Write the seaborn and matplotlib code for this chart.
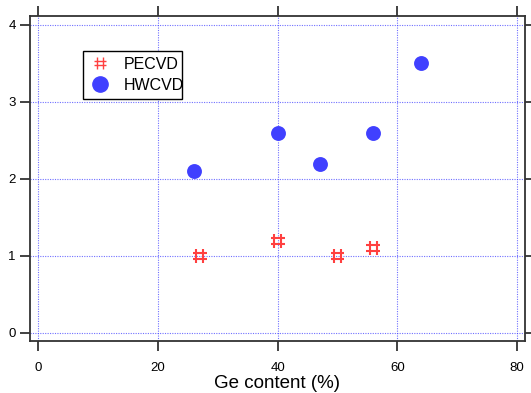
import matplotlib
matplotlib.use("Agg")
import matplotlib.pyplot as plt
from matplotlib.path import Path
from matplotlib.lines import Line2D
from matplotlib.patches import Rectangle
import seaborn as sns
import pandas as pd

pecvd_x = [27, 40, 50, 56]
pecvd_y = [1.0, 1.2, 1.0, 1.1]
hwcvd_x = [26, 40, 47, 56, 64]
hwcvd_y = [2.1, 2.6, 2.2, 2.6, 3.5]
x_ticks = [0, 20, 40, 60, 80]
y_ticks = [0, 1, 2, 3, 4]

sns.set_style("white")
plt.rcParams['font.family'] = ['Liberation Sans', 'DejaVu Sans']
plt.rcParams['text.color'] = 'black'
plt.rcParams['axes.labelcolor'] = 'black'
plt.rcParams['xtick.labelcolor'] = 'black'
plt.rcParams['ytick.labelcolor'] = 'black'

RED = "#ff4040"
BLUE = "#4040ff"

hash_path = Path(
    [(-0.25, -0.5), (-0.25, 0.5), (0.25, -0.5), (0.25, 0.5),
     (-0.5, -0.22), (0.5, -0.22), (-0.5, 0.22), (0.5, 0.22)],
    [Path.MOVETO, Path.LINETO, Path.MOVETO, Path.LINETO,
     Path.MOVETO, Path.LINETO, Path.MOVETO, Path.LINETO])

fig = plt.figure(figsize=(5.31, 3.93), dpi=100)
ax = fig.add_axes([0.0561, 0.1331, 0.932, 0.827])

df_p = pd.DataFrame({"x": pecvd_x, "y": pecvd_y})
df_h = pd.DataFrame({"x": hwcvd_x, "y": hwcvd_y})

sns.scatterplot(data=df_p, x="x", y="y", ax=ax, marker=hash_path, s=100,
                facecolor="none", edgecolor=RED, linewidth=1.5, zorder=3)
sns.scatterplot(data=df_h, x="x", y="y", ax=ax, marker="o", s=115,
                color=BLUE, edgecolor=BLUE, linewidth=0, zorder=3)

ax.set_xlim(-1.45, 81.3)
ax.set_ylim(-0.10, 4.12)
ax.set_xticks(x_ticks)
ax.set_yticks(y_ticks)
ax.grid(True, color=BLUE, linestyle=(0, (1, 1.2)), linewidth=0.8, alpha=0.75)
ax.set_axisbelow(True)

for sp in ax.spines.values():
    sp.set_color("#333333")
    sp.set_linewidth(1.3)
    sp.set_visible(True)

ax.tick_params(axis="both", which="major", direction="out", length=7,
               width=1.3, color="#333333", labelsize=9.5, labelcolor="black")
ax.tick_params(axis="x", top=True, bottom=True, labeltop=False, pad=8)
ax.tick_params(axis="y", left=True, right=True, labelright=False, pad=3)

ax.set_xlabel("Ge content (%)", fontsize=13.5, labelpad=1, color="black")
ax.set_ylabel("")

handles = [
    Line2D([], [], linestyle="none", marker=hash_path, markersize=8,
           markerfacecolor="none", markeredgecolor=RED, markeredgewidth=1.0),
    Line2D([], [], linestyle="none", marker="o", markersize=11,
           markerfacecolor=BLUE, markeredgecolor=BLUE),
]
leg = ax.legend(handles, ["PECVD", "HWCVD"], loc="upper left",
                bbox_to_anchor=(0.107, 0.891), borderaxespad=0,
                fontsize=11.5, frameon=False,
                handlelength=1.4, handletextpad=0.8, labelspacing=0.4,
                borderpad=0.35)
for t in leg.get_texts():
    t.set_color("black")
ax.add_patch(Rectangle((0.1069, 0.7446), 0.2006, 0.1468, transform=ax.transAxes,
                       facecolor="white", edgecolor="black", linewidth=1.0,
                       zorder=4))
leg.set_zorder(5)

fig.savefig("out.png", dpi=100)
